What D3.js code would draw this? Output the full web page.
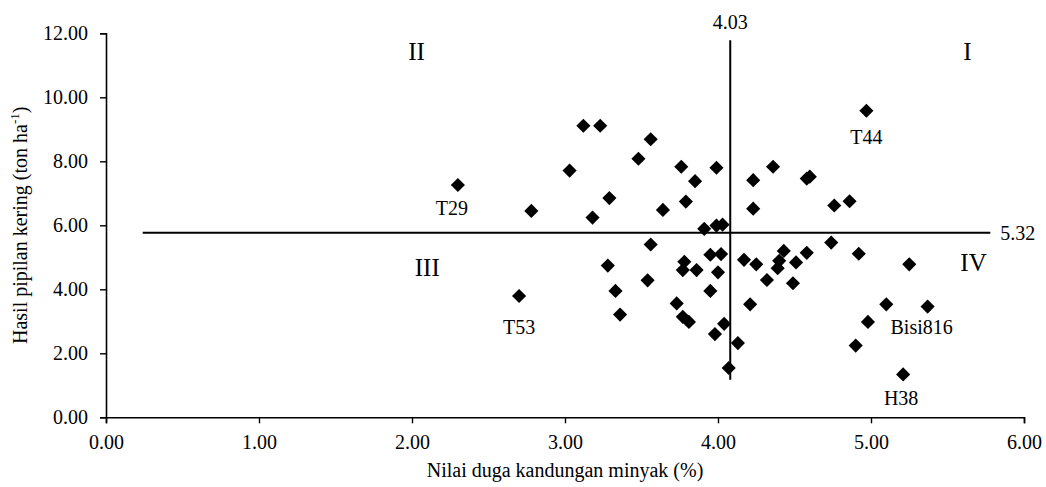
<meta charset="utf-8">
<head>
  <script src="https://d3js.org/d3.v7.min.js"></script>
  <style>
    body { margin: 0; background: #fff; }
    text { font-family: "Liberation Serif", "Times New Roman", serif; fill: #000; }
  </style>
</head>
<body>
  <svg id="svg" width="1046" height="487"></svg>
  <script>
    // oil content estimate (%) for each genotype
    let oil = [2.30, 2.78, 3.12, 3.23, 3.56, 3.48, 3.03, 3.76, 3.85, 3.29,
               3.18, 3.64, 3.79, 3.56, 3.99, 3.91, 3.99, 4.03, 4.97, 4.36,
               4.23, 4.58, 4.60, 4.23, 4.76, 4.86, 4.74, 3.28, 3.54, 3.33,
               3.36, 3.78, 3.77, 3.86, 3.95, 4.02, 4.00, 3.95, 3.73, 3.77,
               3.81, 4.04, 3.98, 4.07, 4.17, 4.25, 4.43, 4.40, 4.39, 4.51,
               4.58, 4.32, 4.49, 4.92, 4.21, 5.10, 4.98, 4.13, 4.90, 5.25,
               5.37, 5.21, 2.70];
    // dry shelled yield (ton/ha)
    let yieldT = [7.26, 6.45, 9.11, 9.11, 8.69, 8.08, 7.71, 7.83, 7.38, 6.85,
                  6.24, 6.48, 6.74, 5.40, 7.80, 5.89, 5.99, 6.02, 9.58, 7.83,
                  7.41, 7.46, 7.52, 6.52, 6.62, 6.75, 5.46, 4.74, 4.28, 3.95,
                  3.21, 4.86, 4.60, 4.60, 5.08, 5.10, 4.53, 3.95, 3.56, 3.14,
                  2.98, 2.92, 2.60, 1.54, 4.92, 4.78, 5.20, 4.89, 4.66, 4.84,
                  5.14, 4.29, 4.19, 5.11, 3.53, 3.53, 2.98, 2.32, 2.24, 4.78,
                  3.46, 1.34, 3.79];
    let named = [{i: 0, name: "T29"}, {i: 18, name: "T44"}, {i: 62, name: "T53"},
                 {i: 60, name: "Bisi816"}, {i: 61, name: "H38"}];
    let xTicks = [0, 1, 2, 3, 4, 5, 6];
    let yTicks = [0, 2, 4, 6, 8, 10, 12];
    let quadrants = ["I", "II", "III", "IV"];
    let meanXLabel = "4.03", meanYLabel = "5.32";
    let vLine = {x: 4.08, y0: 1.17, y1: 11.78};
    let hLine = {y: 5.77, x0: 0.24, x1: 5.78};

    let svg = d3.select("#svg");
    let x = d3.scaleLinear().domain([0, 6]).range([106, 1024]);
    let y = d3.scaleLinear().domain([0, 12]).range([417.3, 33.3]);
    let fmt = d3.format(".2f");

    let xAxis = svg.append("g")
      .attr("transform", `translate(0,${y(0)})`)
      .call(d3.axisBottom(x).tickValues(xTicks).tickFormat(fmt).tickSizeOuter(0).tickSize(6).tickPadding(8));
    let yAxis = svg.append("g")
      .attr("transform", `translate(${x(0)},0)`)
      .call(d3.axisLeft(y).tickValues(yTicks).tickFormat(fmt).tickSizeOuter(0).tickSize(6).tickPadding(12));
    [xAxis, yAxis].forEach(a => {
      a.select(".domain").attr("stroke", "#000").attr("stroke-width", 1.6);
      a.selectAll(".tick line").attr("stroke", "#000").attr("stroke-width", 1.4);
      a.selectAll(".tick text").attr("font-size", 20).attr("font-family", "Liberation Serif").attr("fill", "#000");
    });
    xAxis.selectAll(".tick text").attr("dy", "0.9em");

    // quadrant divider lines
    svg.append("line")
      .attr("x1", x(vLine.x)).attr("x2", x(vLine.x))
      .attr("y1", y(vLine.y1)).attr("y2", y(vLine.y0))
      .attr("stroke", "#000").attr("stroke-width", 2);
    svg.append("line")
      .attr("x1", x(hLine.x0)).attr("x2", x(hLine.x1))
      .attr("y1", y(hLine.y)).attr("y2", y(hLine.y))
      .attr("stroke", "#000").attr("stroke-width", 2);
    svg.append("text").attr("x", x(vLine.x)).attr("y", y(vLine.y1) - 11)
      .attr("text-anchor", "middle").attr("font-size", 20).text(meanXLabel);
    svg.append("text").attr("x", x(hLine.x1) + 10).attr("y", y(hLine.y) + 7)
      .attr("font-size", 20).text(meanYLabel);

    // quadrant numerals
    let quadPos = {I: [5.63, 11.17], II: [2.03, 11.17], III: [2.10, 4.42], IV: [5.67, 4.58]};
    quadrants.forEach(q => {
      svg.append("text").attr("x", x(quadPos[q][0])).attr("y", y(quadPos[q][1]))
        .attr("text-anchor", "middle").attr("font-size", 25).text(q);
    });

    // points
    let diamond = d3.symbol().type(d3.symbolSquare).size(100);
    svg.append("g").selectAll("path")
      .data(oil.map((v, i) => [v, yieldT[i]]))
      .enter().append("path")
      .attr("d", diamond)
      .attr("transform", d => `translate(${x(d[0])},${y(d[1])}) rotate(45)`)
      .attr("fill", "#000");

    // genotype labels
    let labelOff = {T29: [-6, 30], T44: [0, 33], T53: [0, 38], Bisi816: [-6, 27], H38: [-2, 31]};
    svg.append("g").selectAll("text")
      .data(named)
      .enter().append("text")
      .attr("x", d => x(oil[d.i]) + labelOff[d.name][0])
      .attr("y", d => y(yieldT[d.i]) + labelOff[d.name][1])
      .attr("text-anchor", "middle").attr("font-size", 20)
      .text(d => d.name);

    // axis titles
    svg.append("text").attr("x", x(3)).attr("y", 477)
      .attr("text-anchor", "middle").attr("font-size", 20)
      .text("Nilai duga kandungan minyak (%)");
    let yt = svg.append("text")
      .attr("transform", `translate(27,${(y(0) + y(12)) / 2}) rotate(-90)`)
      .attr("text-anchor", "middle").attr("font-size", 20);
    yt.append("tspan").text("Hasil pipilan kering (ton ha");
    yt.append("tspan").attr("font-size", 13).attr("dy", -8).text("-1");
    yt.append("tspan").attr("dy", 8).text(")");
  </script>
</body>
